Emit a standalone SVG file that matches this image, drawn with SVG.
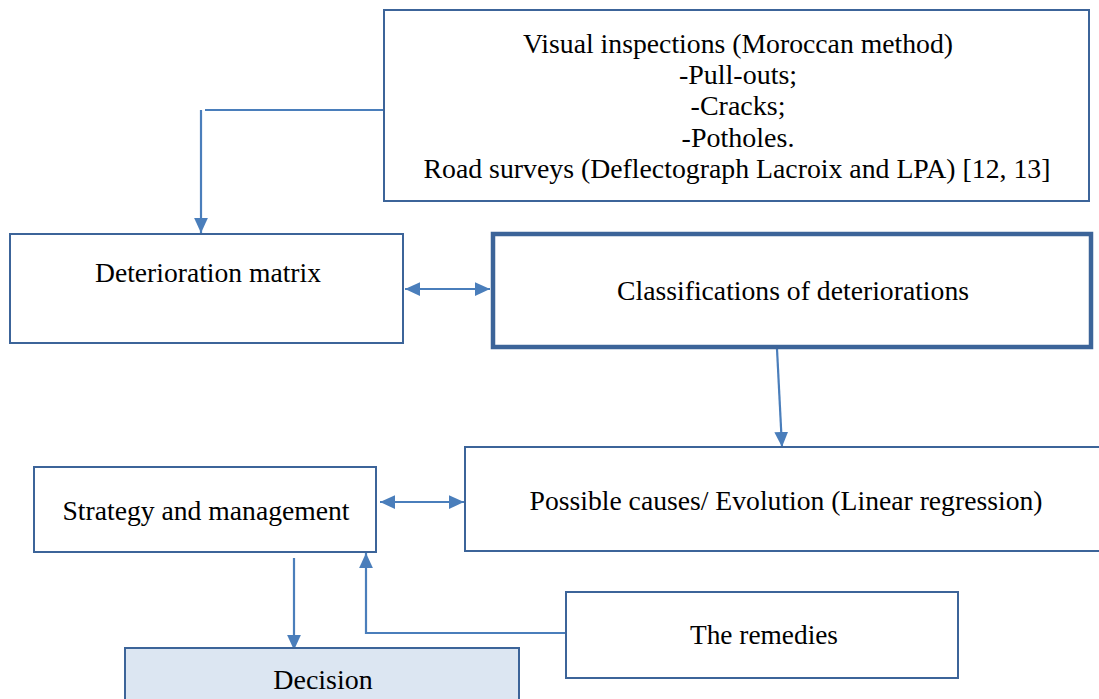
<svg xmlns="http://www.w3.org/2000/svg" width="1099" height="699" viewBox="0 0 1099 699">
<style>
.box{fill:#ffffff;stroke:#3c6499;stroke-width:2}
.thick{fill:#ffffff;stroke:#3c6499;stroke-width:4.5}
.blue{fill:#dce6f2;stroke:#3c6499;stroke-width:2}
.t{font-family:"Liberation Serif","Times New Roman",serif;font-size:28px;fill:#000;text-anchor:middle}
.c{fill:none;stroke:#4a7ebb;stroke-width:2.2}
</style>
<defs>
<marker id="ah" viewBox="0 0 12 12" refX="12" refY="6" markerWidth="15" markerHeight="15" markerUnits="userSpaceOnUse" orient="auto-start-reverse">
<path d="M0,0.5 L12,6 L0,11.5 Z" fill="#4a7ebb"/>
</marker>
</defs>
<rect width="1099" height="699" fill="#ffffff"/>
<g id="connectors">
<path class="c" d="M383,110 H205"/>
<path class="c" d="M201,110 V233" marker-end="url(#ah)"/>
<path class="c" d="M405,289 H490" marker-start="url(#ah)" marker-end="url(#ah)"/>
<path class="c" d="M777,349 L782,447" marker-end="url(#ah)"/>
<path class="c" d="M380,502 H464" marker-start="url(#ah)" marker-end="url(#ah)"/>
<path class="c" d="M294,558 V650" marker-end="url(#ah)"/>
<path class="c" d="M566,633 H366 V553" marker-end="url(#ah)"/>
</g>
<g id="inspections">
<rect class="box" x="384" y="10" width="705" height="191"/>
<text class="t" x="738" y="53" textLength="430" lengthAdjust="spacingAndGlyphs">Visual inspections (Moroccan method)</text>
<text class="t" x="738" y="84">-Pull-outs;</text>
<text class="t" x="738" y="115">-Cracks;</text>
<text class="t" x="738" y="147">-Potholes.</text>
<text class="t" x="737" y="178" textLength="627" lengthAdjust="spacingAndGlyphs">Road surveys (Deflectograph Lacroix and LPA) [12, 13]</text>
</g>
<g id="matrix">
<rect class="box" x="10" y="234" width="393" height="109"/>
<text class="t" x="208" y="282" textLength="226" lengthAdjust="spacingAndGlyphs">Deterioration matrix</text>
</g>
<g id="classifications">
<rect class="thick" x="493" y="234" width="598" height="113"/>
<text class="t" x="793" y="300" textLength="352" lengthAdjust="spacingAndGlyphs">Classifications of deteriorations</text>
</g>
<g id="causes">
<rect class="box" x="465" y="447" width="640" height="104"/>
<text class="t" x="786" y="510" textLength="513" lengthAdjust="spacingAndGlyphs">Possible causes/ Evolution (Linear regression)</text>
</g>
<g id="strategy">
<rect class="box" x="34" y="467" width="342" height="85"/>
<text class="t" x="206" y="520" textLength="287" lengthAdjust="spacingAndGlyphs">Strategy and management</text>
</g>
<g id="remedies">
<rect class="box" x="566" y="592" width="392" height="86"/>
<text class="t" x="764" y="644" textLength="148" lengthAdjust="spacingAndGlyphs">The remedies</text>
</g>
<g id="decision">
<rect class="blue" x="125" y="648" width="394" height="70"/>
<text class="t" x="323" y="689">Decision</text>
</g>
</svg>
